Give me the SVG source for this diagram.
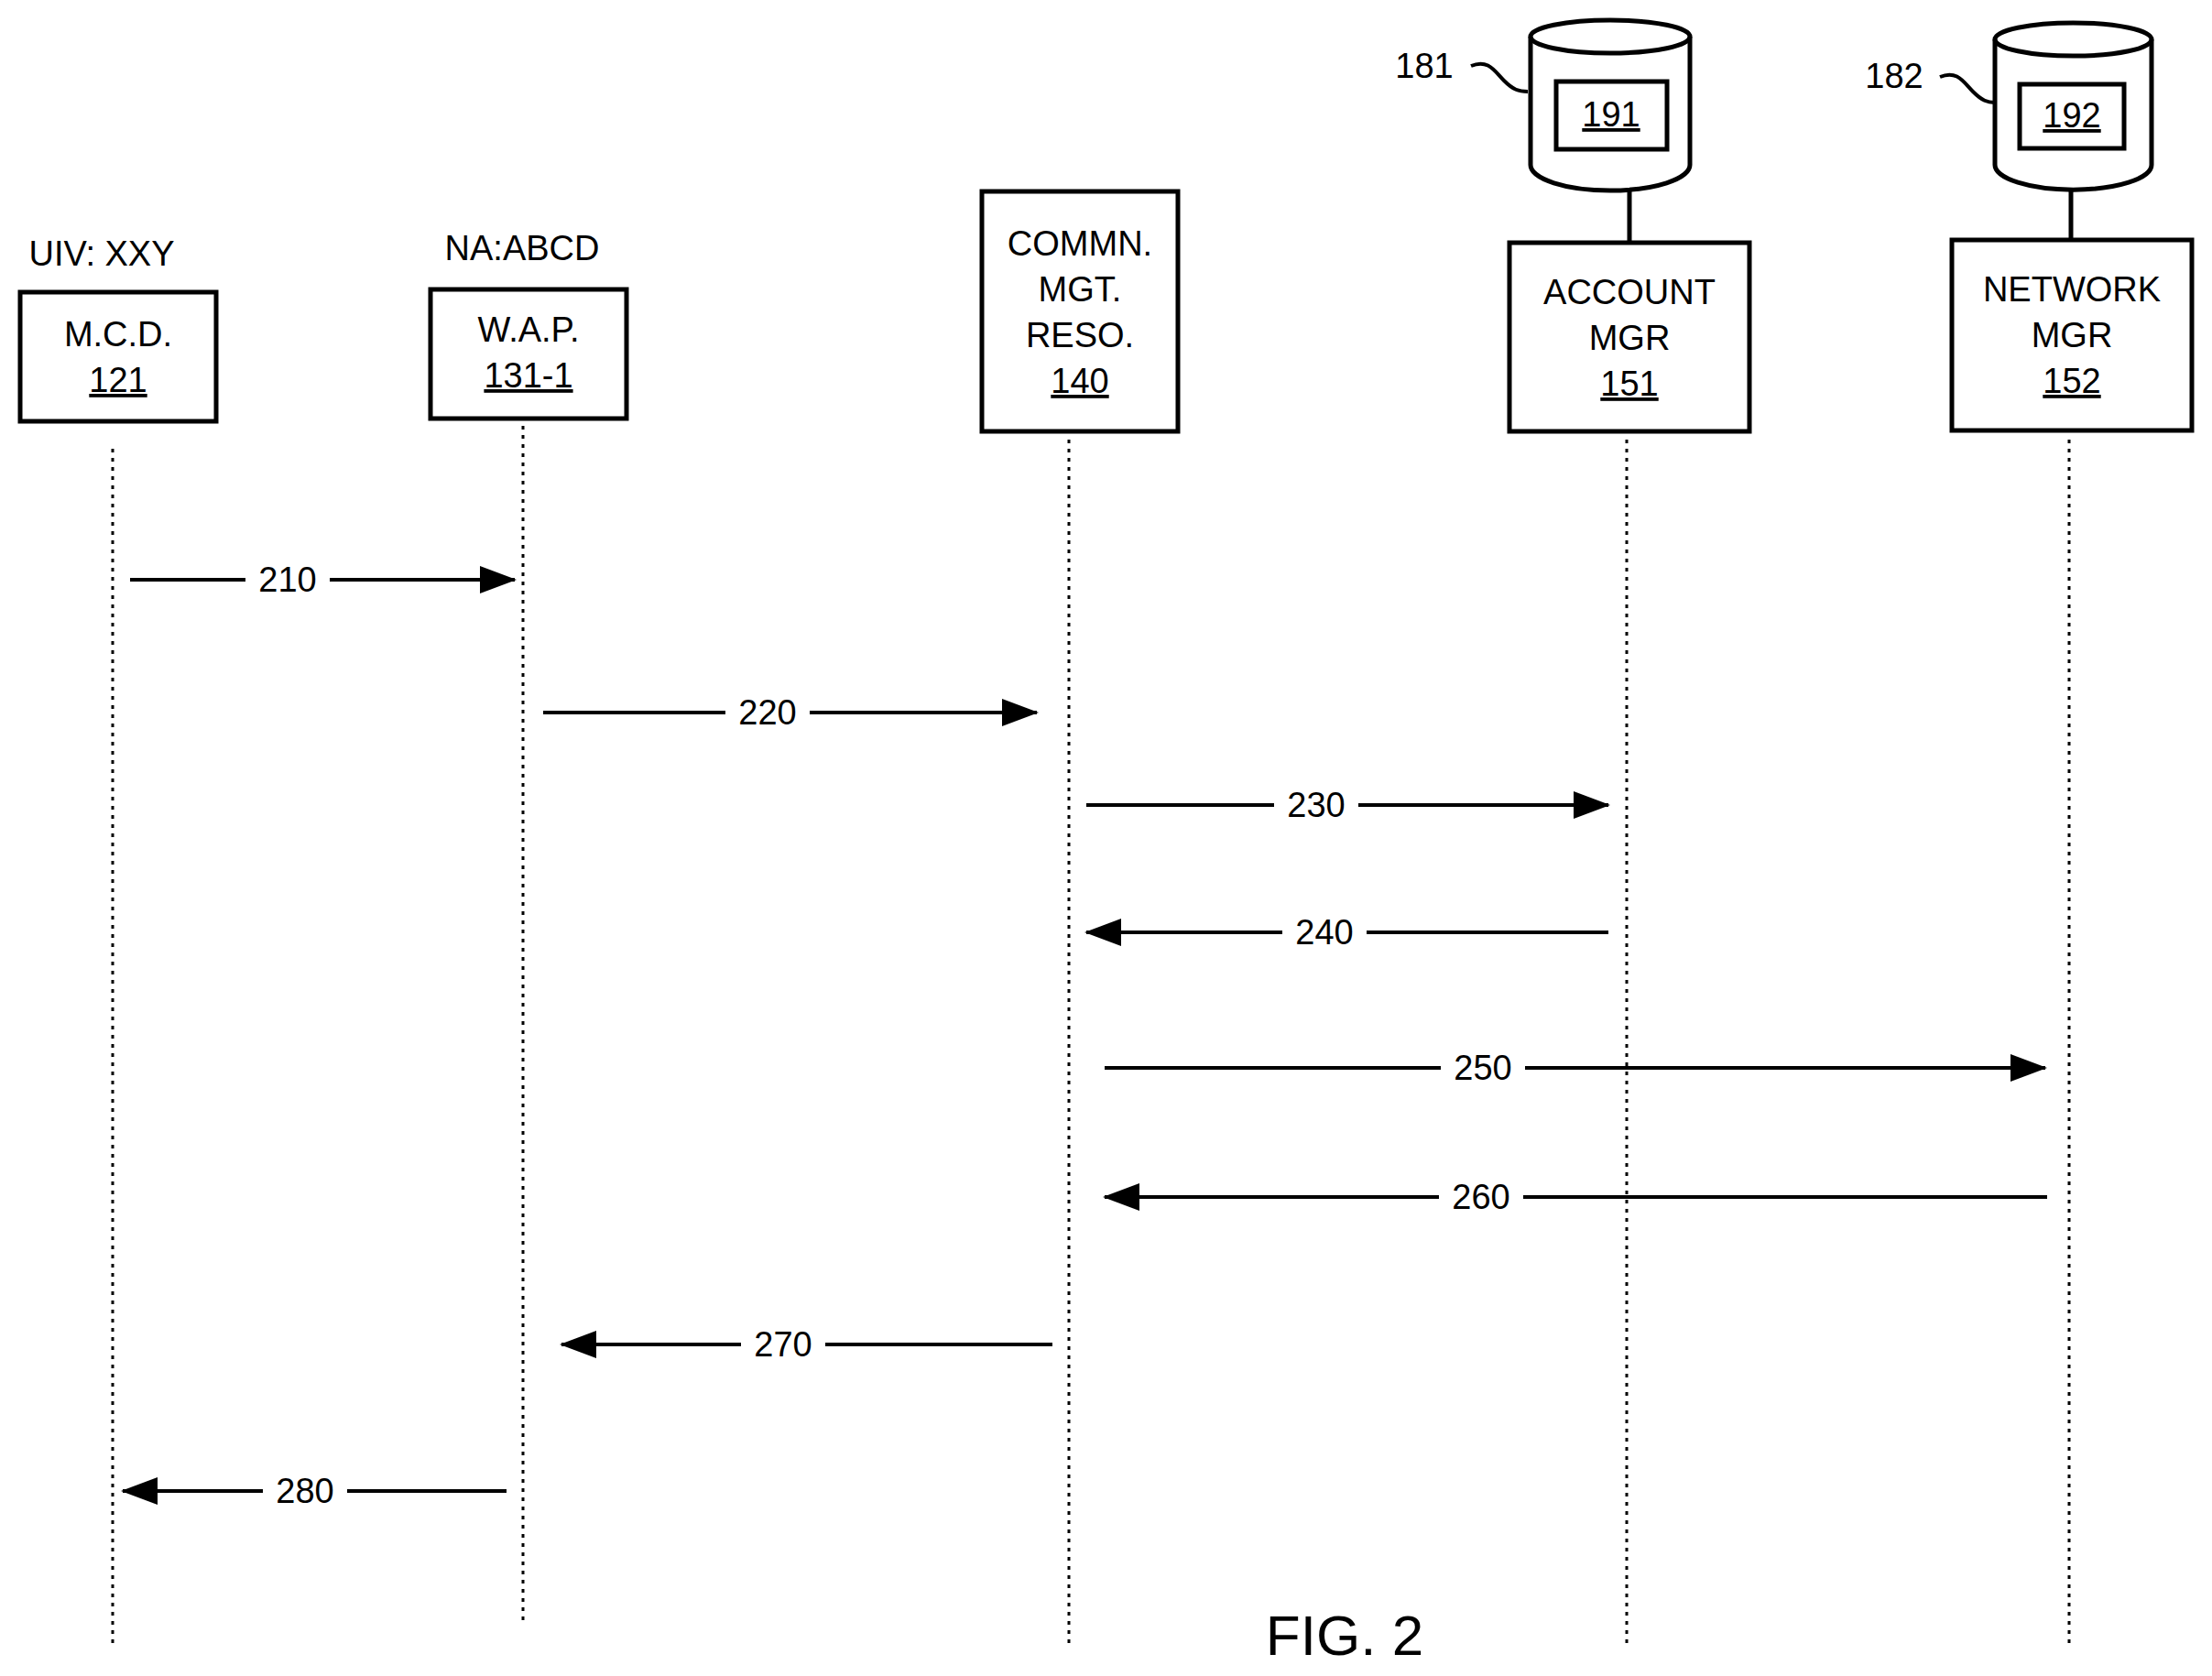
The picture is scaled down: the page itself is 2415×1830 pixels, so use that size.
<svg xmlns="http://www.w3.org/2000/svg" width="2415" height="1830" viewBox="0 0 2415 1830">
<style>
.b{fill:#fff;stroke:#000;stroke-width:5}
.t{font-family:"Liberation Sans",Arial,sans-serif;font-size:38px;text-anchor:middle;fill:#000}
.u{text-decoration:underline}
.ll{stroke:#000;stroke-width:3;stroke-dasharray:4 6;fill:none}
.m{stroke:#000;stroke-width:4;fill:none}
.w{fill:#fff;stroke:none}
</style>
<defs>
<marker id="ah" viewBox="0 0 40 30" refX="38" refY="15" markerWidth="40" markerHeight="30" markerUnits="userSpaceOnUse" orient="auto"><path d="M0,0 L40,15 L0,30 Z" fill="#000"/></marker>
</defs>
<rect width="2415" height="1830" fill="#fff"/>
<g id="lifelines">
<line class="ll" x1="123" y1="490" x2="123" y2="1800"/>
<line class="ll" x1="571" y1="465" x2="571" y2="1775"/>
<line class="ll" x1="1167" y1="480" x2="1167" y2="1795"/>
<line class="ll" x1="1776" y1="480" x2="1776" y2="1795"/>
<line class="ll" x1="2259" y1="480" x2="2259" y2="1795"/>
</g>
<g id="mcd">
<text class="t" x="111" y="290">UIV: XXY</text>
<rect class="b" x="22" y="319" width="214" height="141"/>
<text class="t" x="129" y="378">M.C.D.</text>
<text class="t u" x="129" y="428">121</text>
</g>
<g id="wap">
<text class="t" x="570" y="284">NA:ABCD</text>
<rect class="b" x="470" y="316" width="214" height="141"/>
<text class="t" x="577" y="373">W.A.P.</text>
<text class="t u" x="577" y="423">131-1</text>
</g>
<g id="cmr">
<rect class="b" x="1072" y="209" width="214" height="262"/>
<text class="t" x="1179" y="279">COMMN.</text>
<text class="t" x="1179" y="329">MGT.</text>
<text class="t" x="1179" y="379">RESO.</text>
<text class="t u" x="1179" y="429">140</text>
</g>
<g id="db181">
<text class="t" x="1555" y="85">181</text>
<path class="m" d="M1606,72 C1625,64 1632,78 1642,88 C1652,98 1658,100 1668,100"/>
<path class="b" d="M1671,40 L1671,180 A87,28 0 0 0 1845,180 L1845,40 A87,18 0 0 0 1671,40 Z"/>
<path class="m" style="stroke-width:5" d="M1671,40 A87,18 0 0 0 1845,40"/>
<rect class="b" x="1699" y="89" width="121" height="74"/>
<text class="t u" x="1759" y="138">191</text>
<line class="m" style="stroke-width:5" x1="1779" y1="207" x2="1779" y2="265"/>
</g>
<g id="acct">
<rect class="b" x="1648" y="265" width="262" height="206"/>
<text class="t" x="1779" y="332">ACCOUNT</text>
<text class="t" x="1779" y="382">MGR</text>
<text class="t u" x="1779" y="432">151</text>
</g>
<g id="db182">
<text class="t" x="2068" y="96">182</text>
<path class="m" d="M2118,84 C2137,76 2144,90 2154,100 C2164,110 2170,112 2178,112"/>
<path class="b" d="M2178,43 L2178,180 A85,27 0 0 0 2349,180 L2349,43 A85,18 0 0 0 2178,43 Z"/>
<path class="m" style="stroke-width:5" d="M2178,43 A85,18 0 0 0 2349,43"/>
<rect class="b" x="2205" y="92" width="114" height="70"/>
<text class="t u" x="2262" y="139">192</text>
<line class="m" style="stroke-width:5" x1="2261" y1="207" x2="2261" y2="262"/>
</g>
<g id="netmgr">
<rect class="b" x="2131" y="262" width="262" height="208"/>
<text class="t" x="2262" y="329">NETWORK</text>
<text class="t" x="2262" y="379">MGR</text>
<text class="t u" x="2262" y="429">152</text>
</g>
<g id="connectors">
<line class="m" x1="142" y1="633" x2="562" y2="633" marker-end="url(#ah)"/>
<rect class="w" x="268" y="610" width="92" height="46"/><text class="t" x="314" y="646">210</text>
<line class="m" x1="593" y1="778" x2="1132" y2="778" marker-end="url(#ah)"/>
<rect class="w" x="792" y="755" width="92" height="46"/><text class="t" x="838" y="791">220</text>
<line class="m" x1="1186" y1="879" x2="1756" y2="879" marker-end="url(#ah)"/>
<rect class="w" x="1391" y="856" width="92" height="46"/><text class="t" x="1437" y="892">230</text>
<line class="m" x1="1756" y1="1018" x2="1186" y2="1018" marker-end="url(#ah)"/>
<rect class="w" x="1400" y="995" width="92" height="46"/><text class="t" x="1446" y="1031">240</text>
<line class="m" x1="1206" y1="1166" x2="2233" y2="1166" marker-end="url(#ah)"/>
<rect class="w" x="1573" y="1143" width="92" height="46"/><text class="t" x="1619" y="1179">250</text>
<line class="m" x1="2235" y1="1307" x2="1206" y2="1307" marker-end="url(#ah)"/>
<rect class="w" x="1571" y="1284" width="92" height="46"/><text class="t" x="1617" y="1320">260</text>
<line class="m" x1="1149" y1="1468" x2="613" y2="1468" marker-end="url(#ah)"/>
<rect class="w" x="809" y="1445" width="92" height="46"/><text class="t" x="855" y="1481">270</text>
<line class="m" x1="553" y1="1628" x2="134" y2="1628" marker-end="url(#ah)"/>
<rect class="w" x="287" y="1605" width="92" height="46"/><text class="t" x="333" y="1641">280</text>
</g>
<text class="t" x="1468" y="1807" style="font-size:62px">FIG. 2</text>
</svg>
